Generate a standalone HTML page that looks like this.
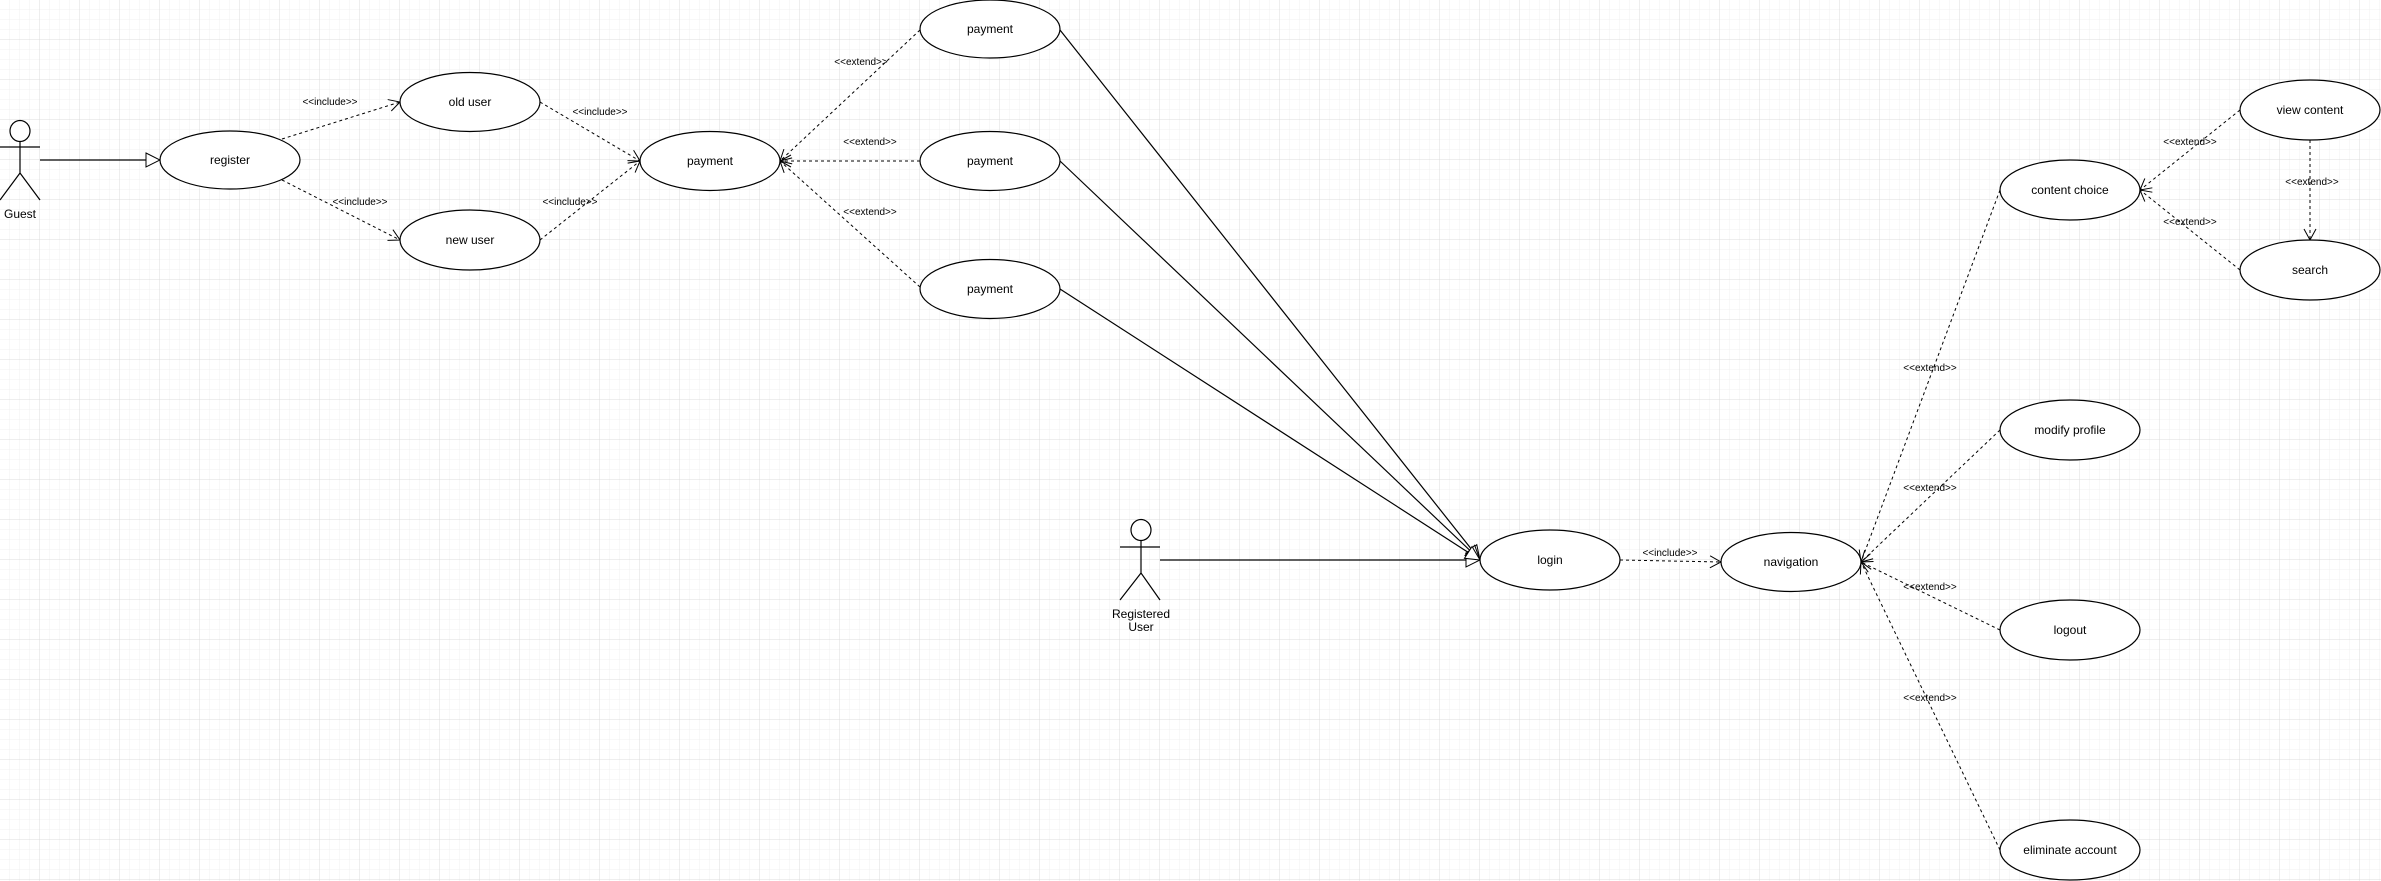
<!DOCTYPE html>
<html><head><meta charset="utf-8"><style>
html,body{margin:0;padding:0;background:#fff}
svg{display:block}
text{font-family:"Liberation Sans",Arial,sans-serif;fill:#000}
</style></head><body>
<svg width="2381" height="881" xmlns="http://www.w3.org/2000/svg">
<defs>
<pattern id="mi" width="10" height="10" patternUnits="userSpaceOnUse"><path d="M10 0V10H0" fill="none" stroke="#f0f0f0" stroke-width="1"/></pattern>
<pattern id="ma" width="40" height="40" patternUnits="userSpaceOnUse"><rect width="40" height="40" fill="url(#mi)"/><path d="M40 0V40H0" fill="none" stroke="#dcdcdc" stroke-width="1"/></pattern>
<marker id="op" markerWidth="14" markerHeight="14" refX="12" refY="7" orient="auto" markerUnits="userSpaceOnUse"><path d="M1 1L12 7L1 13" fill="none" stroke="#000" stroke-width="1"/></marker>
<marker id="tri" markerWidth="16" markerHeight="16" refX="15" refY="8" orient="auto" markerUnits="userSpaceOnUse"><path d="M1 1L15 8L1 15Z" fill="#fff" stroke="#000" stroke-width="1"/></marker>
</defs>
<rect x="-0.5" y="-0.5" width="2382" height="882" fill="url(#ma)"/>
<g fill="none" stroke="#000" stroke-width="1.2">
<!-- solid -->
<line x1="40" y1="160" x2="160" y2="160" marker-end="url(#tri)"/>
<line x1="1160" y1="560" x2="1480" y2="560" marker-end="url(#tri)"/>
<line x1="1060" y1="30" x2="1480" y2="560" marker-end="url(#tri)"/>
<line x1="1060" y1="161" x2="1480" y2="560" marker-end="url(#tri)"/>
<line x1="1060" y1="289" x2="1480" y2="560" marker-end="url(#tri)"/>
</g>
<g fill="none" stroke="#000" stroke-width="1" stroke-dasharray="3,3">
<line x1="282" y1="139" x2="400" y2="102" marker-end="url(#op)"/>
<line x1="282" y1="180" x2="400" y2="240" marker-end="url(#op)"/>
<line x1="540" y1="102" x2="640" y2="161" marker-end="url(#op)"/>
<line x1="540" y1="240" x2="640" y2="161" marker-end="url(#op)"/>
<line x1="920" y1="30" x2="780" y2="161" marker-end="url(#op)"/>
<line x1="920" y1="161" x2="780" y2="161" marker-end="url(#op)"/>
<line x1="920" y1="287" x2="780" y2="161" marker-end="url(#op)"/>
<line x1="1620" y1="560" x2="1721" y2="562" marker-end="url(#op)"/>
<line x1="2000" y1="190" x2="1861" y2="562" marker-end="url(#op)"/>
<line x1="2000" y1="430" x2="1861" y2="562" marker-end="url(#op)"/>
<line x1="2000" y1="630" x2="1861" y2="562" marker-end="url(#op)"/>
<line x1="2000" y1="850" x2="1861" y2="562" marker-end="url(#op)"/>
<line x1="2240" y1="110" x2="2140" y2="190" marker-end="url(#op)"/>
<line x1="2240" y1="270" x2="2140" y2="190" marker-end="url(#op)"/>
<line x1="2310" y1="140" x2="2310" y2="240" marker-end="url(#op)"/>
</g>
<!-- actors -->
<g fill="#fff" stroke="#000" stroke-width="1.2">
<ellipse cx="20" cy="131" rx="10" ry="10.5"/>
<path d="M20 141.5V173M0 147H40M20 173L0 200M20 173L40 200" fill="none"/>
<ellipse cx="1141" cy="530" rx="10" ry="10.5"/>
<path d="M1141 540.5V573M1120 547H1160M1141 573L1120 600M1141 573L1160 600" fill="none"/>
</g>
<g font-size="12" text-anchor="middle">
<text x="20" y="218">Guest</text>
<text x="1141" y="618">Registered</text>
<text x="1141" y="631">User</text>
</g>
<!-- use cases -->
<g fill="#fff" stroke="#000" stroke-width="1.2">
<ellipse cx="230" cy="160" rx="70" ry="29"/>
<ellipse cx="470" cy="102" rx="70" ry="29.5"/>
<ellipse cx="470" cy="240" rx="70" ry="30"/>
<ellipse cx="710" cy="161" rx="70" ry="29.5"/>
<ellipse cx="990" cy="29" rx="70" ry="29"/>
<ellipse cx="990" cy="161" rx="70" ry="29.5"/>
<ellipse cx="990" cy="289" rx="70" ry="29.5"/>
<ellipse cx="1550" cy="560" rx="70" ry="30"/>
<ellipse cx="1791" cy="562" rx="70" ry="29.5"/>
<ellipse cx="2070" cy="190" rx="70" ry="30"/>
<ellipse cx="2310" cy="110" rx="70" ry="30"/>
<ellipse cx="2310" cy="270" rx="70" ry="30"/>
<ellipse cx="2070" cy="430" rx="70" ry="30"/>
<ellipse cx="2070" cy="630" rx="70" ry="30"/>
<ellipse cx="2070" cy="850" rx="70" ry="30"/>
</g>
<g font-size="12" text-anchor="middle">
<text x="230" y="164">register</text>
<text x="470" y="106">old user</text>
<text x="470" y="244">new user</text>
<text x="710" y="165">payment</text>
<text x="990" y="33">payment</text>
<text x="990" y="165">payment</text>
<text x="990" y="293">payment</text>
<text x="1550" y="564">login</text>
<text x="1791" y="566">navigation</text>
<text x="2070" y="194">content choice</text>
<text x="2310" y="114">view content</text>
<text x="2310" y="274">search</text>
<text x="2070" y="434">modify profile</text>
<text x="2070" y="634">logout</text>
<text x="2070" y="854">eliminate account</text>
</g>
<g font-size="10" text-anchor="middle">
<text x="330" y="105">&lt;&lt;include&gt;&gt;</text>
<text x="600" y="115">&lt;&lt;include&gt;&gt;</text>
<text x="360" y="205">&lt;&lt;include&gt;&gt;</text>
<text x="570" y="205">&lt;&lt;include&gt;&gt;</text>
<text x="861" y="65">&lt;&lt;extend&gt;&gt;</text>
<text x="870" y="145">&lt;&lt;extend&gt;&gt;</text>
<text x="870" y="215">&lt;&lt;extend&gt;&gt;</text>
<text x="1670" y="556">&lt;&lt;include&gt;&gt;</text>
<text x="1930" y="371">&lt;&lt;extend&gt;&gt;</text>
<text x="1930" y="491">&lt;&lt;extend&gt;&gt;</text>
<text x="1930" y="590">&lt;&lt;extend&gt;&gt;</text>
<text x="1930" y="701">&lt;&lt;extend&gt;&gt;</text>
<text x="2190" y="145">&lt;&lt;extend&gt;&gt;</text>
<text x="2190" y="225">&lt;&lt;extend&gt;&gt;</text>
<text x="2312" y="185">&lt;&lt;extend&gt;&gt;</text>
</g>
</svg>
</body></html>
